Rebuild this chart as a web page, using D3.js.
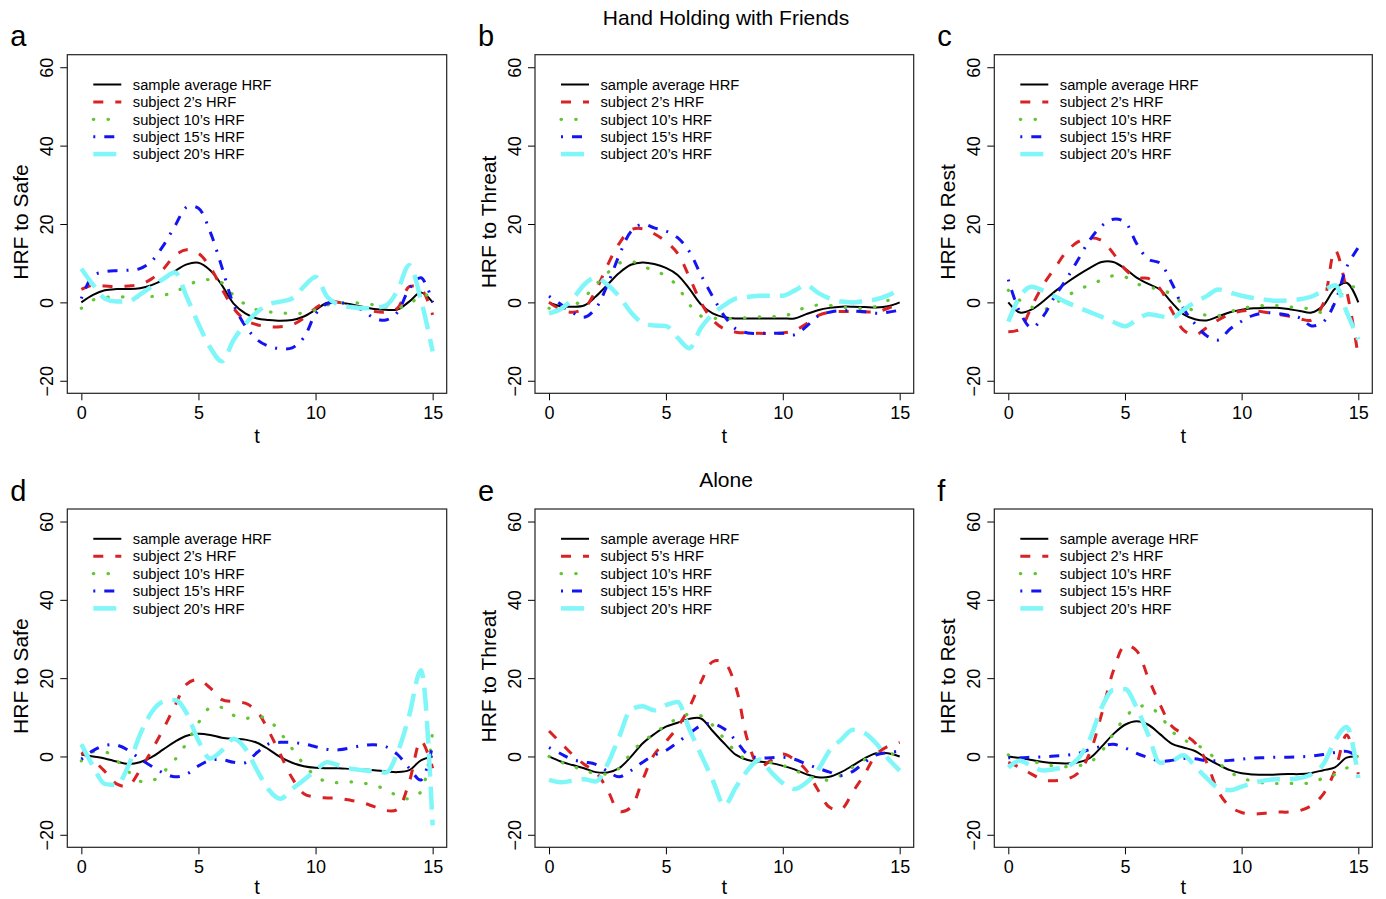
<!DOCTYPE html>
<html>
<head>
<meta charset="utf-8">
<script src="https://cdn.jsdelivr.net/npm/d3@7"></script>
<style>
  body { margin: 0; background: #fff; }
  svg { font-family: "Liberation Sans", Arial, Helvetica, sans-serif; }
</style>
</head>
<body>
<svg id="chart" width="1386" height="899"></svg>
<script>
// time grid (seconds) used by every curve
var tGrid = [0, 0.5, 1, 1.5, 2, 2.5, 3, 3.5, 4, 4.5, 5, 5.5, 6, 6.5, 7, 7.5,
             8, 8.5, 9, 9.5, 10, 10.5, 11, 11.5, 12, 12.5, 13, 13.5, 14, 14.5, 15];
var xTicks = [0, 5, 10, 15];
var yTicks = [-20, 0, 20, 40, 60];
var rowTitles = ["Hand Holding with Friends", "Alone"];
var panelLetters = ["a", "b", "c", "d", "e", "f"];
var yLabels = ["HRF to Safe", "HRF to Threat", "HRF to Rest", "HRF to Safe", "HRF to Threat", "HRF to Rest"];
var legendStd = ["sample average HRF", "subject 2\u2019s HRF", "subject 10\u2019s HRF", "subject 15\u2019s HRF", "subject 20\u2019s HRF"];
var legendE = ["sample average HRF", "subject 5\u2019s HRF", "subject 10\u2019s HRF", "subject 15\u2019s HRF", "subject 20\u2019s HRF"];

// panel a : safe, hand holding
var aAvg = [0, 1.9, 3.1, 3.4, 3.4, 3.6, 4.4, 5.8, 8.0, 9.7, 10.1, 8.2, 4.4, -0.3, -2.8, -4.1,
            -4.5, -4.7, -4.5, -3.6, -1.9, -0.1, 0, -0.5, -1.1, -1.7, -1.9, -1.8, 0.2, 2.5, 0];
var aS2 = [3.3, 4.4, 4.2, 4.0, 4.2, 4.6, 6.0, 8.5, 12.0, 13.4, 12.5, 9.0, 3.5, -1.5, -4.5, -5.7,
           -6.2, -6.2, -5.7, -4.0, -1.5, 0.3, 0, -0.8, -1.5, -2.3, -2.5, -1.5, 4.0, 3.5, -3.2];
var aS10 = [-1.5, 0.6, 1.3, 1.4, 1.4, 1.4, 1.5, 1.8, 2.7, 4.2, 5.5, 5.8, 5.0, 1.8, -0.5, -1.9,
            -2.4, -2.7, -2.8, -2.7, -1.9, -0.7, -0.2, 0, -0.3, -0.6, -0.9, -1.3, -0.6, 1.9, 1.5];
var aS15 = [1.0, 6.8, 7.8, 8.1, 8.2, 8.6, 10.5, 14.5, 19.5, 24.3, 24.0, 18.0, 9.0, -0.5, -6.0, -9.5,
            -11.2, -11.8, -11.6, -9.0, -3.0, -0.3, 0, -0.8, -2.0, -4.0, -4.5, -2.5, 3.5, 6.3, 0];
var aS20 = [8.6, 4.5, 1.0, 0.2, 0.2, 2.0, 4.0, 6.0, 7.6, 1.4, -5.5, -11.5, -15.0, -9.6, -5.5, -2.5,
            -0.5, 0.2, 1.0, 4.0, 6.5, 1.4, -0.6, -1.2, -1.5, -1.4, -0.8, 3.0, 9.5, 0.6, -12.5];

// panel b : threat, hand holding
var bAvg = [0, -1.0, -1.1, -0.8, 1.5, 4.5, 7.5, 9.6, 10.2, 9.8, 8.8, 7.0, 3.5, -0.5, -2.8, -3.8,
            -4.1, -4.1, -4.1, -4.1, -4.1, -4.1, -3.0, -2.0, -1.4, -1.1, -1.1, -1.2, -1.3, -1.0, 0];
var bS2 = [0, -1.8, -2.5, -1.5, 3.0, 9.5, 15.0, 18.5, 18.8, 17.5, 15.5, 12.5, 6.5, 0, -4.5, -6.8,
           -7.6, -7.8, -7.9, -7.9, -7.8, -7.2, -5.5, -3.4, -2.5, -2.3, -2.4, -2.4, -2.4, -1.5, -0.3];
var bS10 = [-1.5, -1.6, -1.0, 1.2, 4.5, 7.5, 10.0, 10.5, 9.3, 8.0, 6.8, 4.0, -0.5, -3.5, -4.0, -4.2,
            -4.0, -3.9, -3.7, -3.6, -3.6, -2.5, -1.2, -0.7, -0.8, -1.2, -1.5, -1.5, -1.0, 0.5, 1.0];
var bS15 = [1.6, -0.5, -2.6, -3.8, -1.5, 4.5, 12.0, 18.0, 20.0, 19.0, 18.2, 16.5, 13.0, 7.0, 1.5, -3.5,
            -6.8, -7.8, -7.9, -7.9, -7.9, -8.3, -6.2, -3.5, -2.5, -2.1, -2.2, -2.4, -2.8, -2.5, -2.0];
var bS20 = [-2.8, -1.7, 0.8, 4.5, 6.3, 4.5, 1.5, -2.5, -5.2, -5.9, -6.0, -9.0, -11.7, -6.5, -3.0, -0.7,
            1.0, 1.4, 1.7, 1.7, 1.7, 3.0, 4.4, 2.5, 1.0, 0.2, 0, 0.4, 0.8, 1.8, 3.3];

// panel c : rest, hand holding
var cAvg = [0, -2.6, -1.8, 0.3, 2.8, 5.0, 7.0, 8.8, 10.3, 10.3, 8.6, 6.3, 4.7, 3.3, 0, -3.0,
            -4.3, -4.6, -3.6, -2.5, -1.9, -1.5, -1.4, -1.4, -1.7, -2.2, -2.6, -0.8, 3.5, 5.0, 0];
var cS2 = [-7.5, -6.8, -1.0, 4.5, 8.8, 13.0, 15.5, 16.5, 15.8, 12.5, 8.5, 6.3, 6.1, 3.5, -2.0, -7.0,
           -8.3, -6.5, -4.5, -3.0, -2.2, -2.1, -2.5, -3.0, -3.5, -4.2, -4.5, -0.3, 13.3, 3.0, -13.8];
var cS10 = [3.1, 0.5, -1.2, -1.9, -0.3, 1.6, 3.2, 4.5, 5.7, 6.8, 6.5, 4.8, 3.8, 3.4, 2.0, -0.5,
            -2.3, -3.3, -3.4, -2.4, -1.6, -1.0, -0.8, -0.8, -1.1, -1.4, -1.7, -2.6, -0.5, 3.5, 4.0];
var cS15 = [5.8, -2.5, -6.5, -3.5, 1.6, 6.0, 11.0, 16.0, 19.5, 21.2, 20.5, 15.0, 11.0, 10.0, 5.0, -1.5,
            -5.5, -8.5, -9.6, -6.8, -4.8, -3.3, -2.7, -2.8, -3.3, -4.0, -6.0, -5.0, 0, 9.0, 14.0];
var cS20 = [-4.9, 1.5, 4.0, 3.0, 1.5, 0, -1.3, -2.5, -3.7, -5.0, -6.1, -4.5, -3.0, -3.5, -4.0, -1.9,
            0, 1.6, 3.3, 2.5, 1.7, 1.1, 0.7, 0.4, 0.5, 0.8, 1.5, 3.0, 4.4, -2.4, -9.5];

// panel d : safe, alone
var dAvg = [0.5, 0, -0.5, -1.3, -1.9, -1.5, -0.2, 1.8, 3.8, 5.3, 5.8, 5.5, 4.8, 4.5, 4.3, 3.5,
            1.8, -0.2, -1.6, -2.5, -2.9, -3.0, -3.0, -3.2, -3.3, -3.5, -3.8, -4.0, -3.5, -1.0, 0];
var dS2 = [1.0, -1.0, -3.8, -7.0, -7.5, -3.5, 1.5, 7.0, 13.0, 18.5, 19.6, 17.5, 14.5, 14.0, 13.6, 11.5,
           6.5, 0.5, -5.5, -9.5, -10.4, -10.6, -10.7, -11.2, -11.8, -12.8, -13.8, -13.5, -6.5, 4.0, -3.0];
var dS10 = [-1.1, 1.2, 1.3, -1.0, -3.8, -6.3, -6.3, -4.0, -0.8, 3.5, 8.6, 12.5, 12.5, 10.5, 9.7, 10.3,
            9.3, 6.0, 2.0, -2.0, -5.0, -6.5, -6.7, -6.5, -6.8, -7.3, -8.5, -10.0, -10.8, -9.0, 6.5];
var dS15 = [-0.7, 1.5, 2.8, 2.9, 1.6, -0.6, -2.5, -4.2, -5.2, -4.5, -2.4, -1.0, -0.8, -1.5, -1.6, 1.0,
            3.2, 3.6, 3.6, 3.2, 2.5, 1.8, 1.7, 2.2, 2.8, 3.0, 2.5, 0.5, -3.0, -6.0, 3.0];
var dS20 = [3.1, -2.5, -7.0, -7.3, -2.5, 5.5, 11.3, 14.0, 14.4, 11.0, 4.0, -0.5, 1.5, 4.5, 2.0, -3.5,
            -8.5, -10.8, -8.3, -6.0, -3.6, -1.5, -2.3, -3.1, -3.5, -3.8, -4.1, 1.0, 10.5, 22.0, -17.6];

// panel e : threat, alone
var eAvg = [0, -1.3, -2.2, -3.0, -4.0, -4.1, -3.0, -0.1, 3.3, 5.7, 7.6, 8.6, 9.6, 9.7, 6.5, 3.3,
            0.4, -0.9, -1.3, -1.7, -2.4, -3.3, -4.5, -5.3, -5.2, -4.0, -2.3, -0.5, 0.8, 0.8, 0];
var eS5 = [6.5, 3.5, 0.5, -2.0, -4.0, -8.5, -14.0, -13.0, -6.0, 0.5, 3.8, 7.5, 12.5, 19.0, 24.2, 24.0,
           17.5, 4.0, -2.5, -1.0, 0.6, -0.8, -3.5, -8.5, -13.0, -13.5, -9.0, -4.5, 0.5, 2.6, 3.6];
var eS10 = [0, -1.4, -2.5, -3.5, -4.4, -4.4, -3.0, 0.8, 3.8, 5.8, 8.0, 9.7, 10.8, 10.4, 8.0, 4.5,
            1.2, -1.0, -1.5, -1.6, -2.3, -3.5, -4.8, -5.8, -6.0, -4.8, -2.7, -0.8, 0.7, 0.8, 0.3];
var eS15 = [2.3, 0.7, -0.8, -1.4, -2.0, -3.8, -5.2, -3.6, -1.5, 0.3, 1.5, 3.6, 5.8, 7.9, 8.4, 7.0,
            4.0, 0.5, -0.4, -0.3, -0.2, -0.7, -1.9, -3.0, -4.0, -4.9, -3.8, -1.5, 0.4, 1.0, 1.3];
var eS20 = [-6.0, -6.6, -6.2, -5.8, -6.4, -2.0, 5.0, 12.0, 12.8, 11.8, 13.1, 13.9, 7.0, 0.5, -6.0, -12.5,
            -7.8, -3.5, -0.8, -4.0, -6.8, -8.3, -6.7, -3.5, 1.5, 4.3, 6.8, 6.0, 3.3, -0.5, -3.6];

// panel f : rest, alone
var fAvg = [0, -0.4, -0.9, -1.4, -1.7, -1.8, -1.5, -0.4, 2.5, 5.7, 8.1, 9.0, 8.1, 5.7, 3.3, 2.3,
            1.4, -0.5, -2.1, -3.5, -4.3, -4.6, -4.7, -4.6, -4.5, -4.5, -4.2, -3.5, -2.8, -0.3, 0];
var fS2 = [-1.5, -2.8, -4.5, -6.0, -6.2, -5.8, -4.2, 1.0, 10.8, 21.8, 28.3, 27.0, 20.0, 13.3, 7.8, 5.7,
           3.5, -1.5, -9.0, -12.8, -14.3, -14.7, -14.5, -14.2, -14.2, -13.8, -12.5, -9.6, -3.6, 5.5, -4.5];
var fS10 = [0.4, -0.6, -1.2, -1.9, -2.5, -2.6, -2.4, -1.5, 1.3, 5.7, 9.9, 12.5, 12.8, 10.5, 6.5, 4.3,
            3.1, 1.5, -1.5, -4.0, -5.5, -6.3, -6.8, -6.9, -6.9, -6.8, -6.8, -5.5, -4.6, -3.0, 0.5];
var fS15 = [-0.3, -0.3, -0.2, -0.1, 0.1, 0.3, 0.8, 1.8, 2.6, 3.1, 2.2, 0.8, -0.3, -1.2, -1.0, -0.5,
            -0.6, -1.1, -1.1, -1.0, -0.7, -0.4, -0.3, -0.2, -0.2, -0.1, 0.1, 0.5, 1.0, 1.3, 0];
var fS20 = [-2.8, -1.1, -2.5, -3.6, -3.2, -2.6, -0.5, 4.5, 12.5, 17.0, 17.2, 12.5, 5.5, -1.6, -1.2, 0.3,
            -2.5, -5.5, -8.0, -8.6, -7.7, -6.8, -6.1, -5.8, -5.8, -5.5, -4.5, -2.0, 4.0, 7.5, -5.5];

var panelSeries = [
  [aAvg, aS2, aS10, aS15, aS20],
  [bAvg, bS2, bS10, bS15, bS20],
  [cAvg, cS2, cS10, cS15, cS20],
  [dAvg, dS2, dS10, dS15, dS20],
  [eAvg, eS5, eS10, eS15, eS20],
  [fAvg, fS2, fS10, fS15, fS20]
];
var panelLegends = [legendStd, legendStd, legendStd, legendStd, legendE, legendStd];

// line styles, R lty 1..5
var styles = [
  { color: "#000000", width: 2,   dash: null,         cap: "butt",  curve: d3.curveCatmullRom.alpha(0.5) },
  { color: "#d92224", width: 3,   dash: "10,12",      cap: "butt",  curve: d3.curveCatmullRom.alpha(0.5) },
  { color: "#62c634", width: 3.2, dash: "0.5,14.2",   cap: "round", curve: d3.curveCatmullRom.alpha(0.5) },
  { color: "#1414f2", width: 3,   dash: "2,9,10,9",   cap: "butt",  curve: d3.curveCatmullRom.alpha(0.5) },
  { color: "#7ff6f8", width: 4.5, dash: "23,10",      cap: "butt",  curve: d3.curveMonotoneX }
];

var colBox = [[67.3, 446.7], [535, 913.7], [994.3, 1372.3]];
var rowBox = [[54.7, 393.3], [509, 847.3]];
var titleY = [25, 487];
var xLabGap = [50, 46.5];

var svg = d3.select("#chart");

rowTitles.forEach(function (title, r) {
  svg.append("text")
    .attr("x", 726)
    .attr("y", titleY[r])
    .attr("text-anchor", "middle")
    .style("font-size", "21px")
    .text(title);
});

panelSeries.forEach(function (series, p) {
  var col = p % 3, row = Math.floor(p / 3);
  var left = colBox[col][0], right = colBox[col][1];
  var top = rowBox[row][0], bottom = rowBox[row][1];

  var x = d3.scaleLinear().domain([-0.6, 15.6]).range([left, right]);
  var y = d3.scaleLinear().domain([-23.2, 63.2]).range([bottom, top]);

  var g = svg.append("g");

  var clipId = "clip" + p;
  g.append("clipPath").attr("id", clipId)
    .append("rect")
    .attr("x", left).attr("y", top)
    .attr("width", right - left).attr("height", bottom - top);

  // axes
  var xAxis = g.append("g")
    .attr("transform", "translate(0," + bottom + ")")
    .call(d3.axisBottom(x).tickValues(xTicks).tickSize(7).tickPadding(6).tickFormat(d3.format("d")));
  xAxis.select(".domain").remove();
  xAxis.selectAll("text").style("font-size", "18px").attr("fill", "#000");

  var yAxis = g.append("g")
    .attr("transform", "translate(" + left + ",0)")
    .call(d3.axisLeft(y).tickValues(yTicks).tickSize(7).tickFormat(d3.format("d")));
  yAxis.select(".domain").remove();
  yAxis.selectAll("text")
    .style("font-size", "18px").attr("fill", "#000")
    .attr("text-anchor", "middle")
    .attr("x", 0).attr("dy", 0)
    .attr("transform", "translate(-14,0) rotate(-90)");

  // curves
  var plot = g.append("g").attr("clip-path", "url(#" + clipId + ")");
  series.forEach(function (vals, s) {
    var st = styles[s];
    var line = d3.line()
      .x(function (d, i) { return x(tGrid[i]); })
      .y(function (d) { return y(d); })
      .curve(st.curve);
    plot.append("path")
      .datum(vals)
      .attr("d", line)
      .attr("fill", "none")
      .attr("stroke", st.color)
      .attr("stroke-width", st.width)
      .attr("stroke-linecap", st.cap)
      .attr("stroke-linejoin", "round")
      .attr("stroke-dasharray", st.dash);
  });

  // box
  g.append("rect")
    .attr("x", left).attr("y", top)
    .attr("width", right - left).attr("height", bottom - top)
    .attr("fill", "none").attr("stroke", "#222").attr("stroke-width", 1.2);

  // legend
  var leg = g.append("g");
  panelLegends[p].forEach(function (lab, k) {
    var ly = top + 29.8 + k * 17.4;
    var st = styles[k];
    leg.append("line")
      .attr("x1", left + 26).attr("x2", left + 54)
      .attr("y1", ly).attr("y2", ly)
      .attr("stroke", st.color)
      .attr("stroke-width", st.width)
      .attr("stroke-linecap", st.cap)
      .attr("stroke-dasharray", st.dash);
    leg.append("text")
      .attr("x", left + 65.5).attr("y", ly + 5.2)
      .style("font-size", "14.7px")
      .text(lab);
  });

  // labels
  g.append("text")
    .attr("x", (left + right) / 2).attr("y", bottom + xLabGap[row])
    .attr("text-anchor", "middle")
    .style("font-size", "20px")
    .text("t");

  g.append("text")
    .attr("transform", "translate(" + (left - 39) + "," + ((top + bottom) / 2 - 2) + ") rotate(-90)")
    .attr("text-anchor", "middle")
    .style("font-size", "21px")
    .text(yLabels[p]);

  g.append("text")
    .attr("x", left - 57).attr("y", top - 8.5)
    .style("font-size", "29px")
    .text(panelLetters[p]);
});
</script>
</body>
</html>
